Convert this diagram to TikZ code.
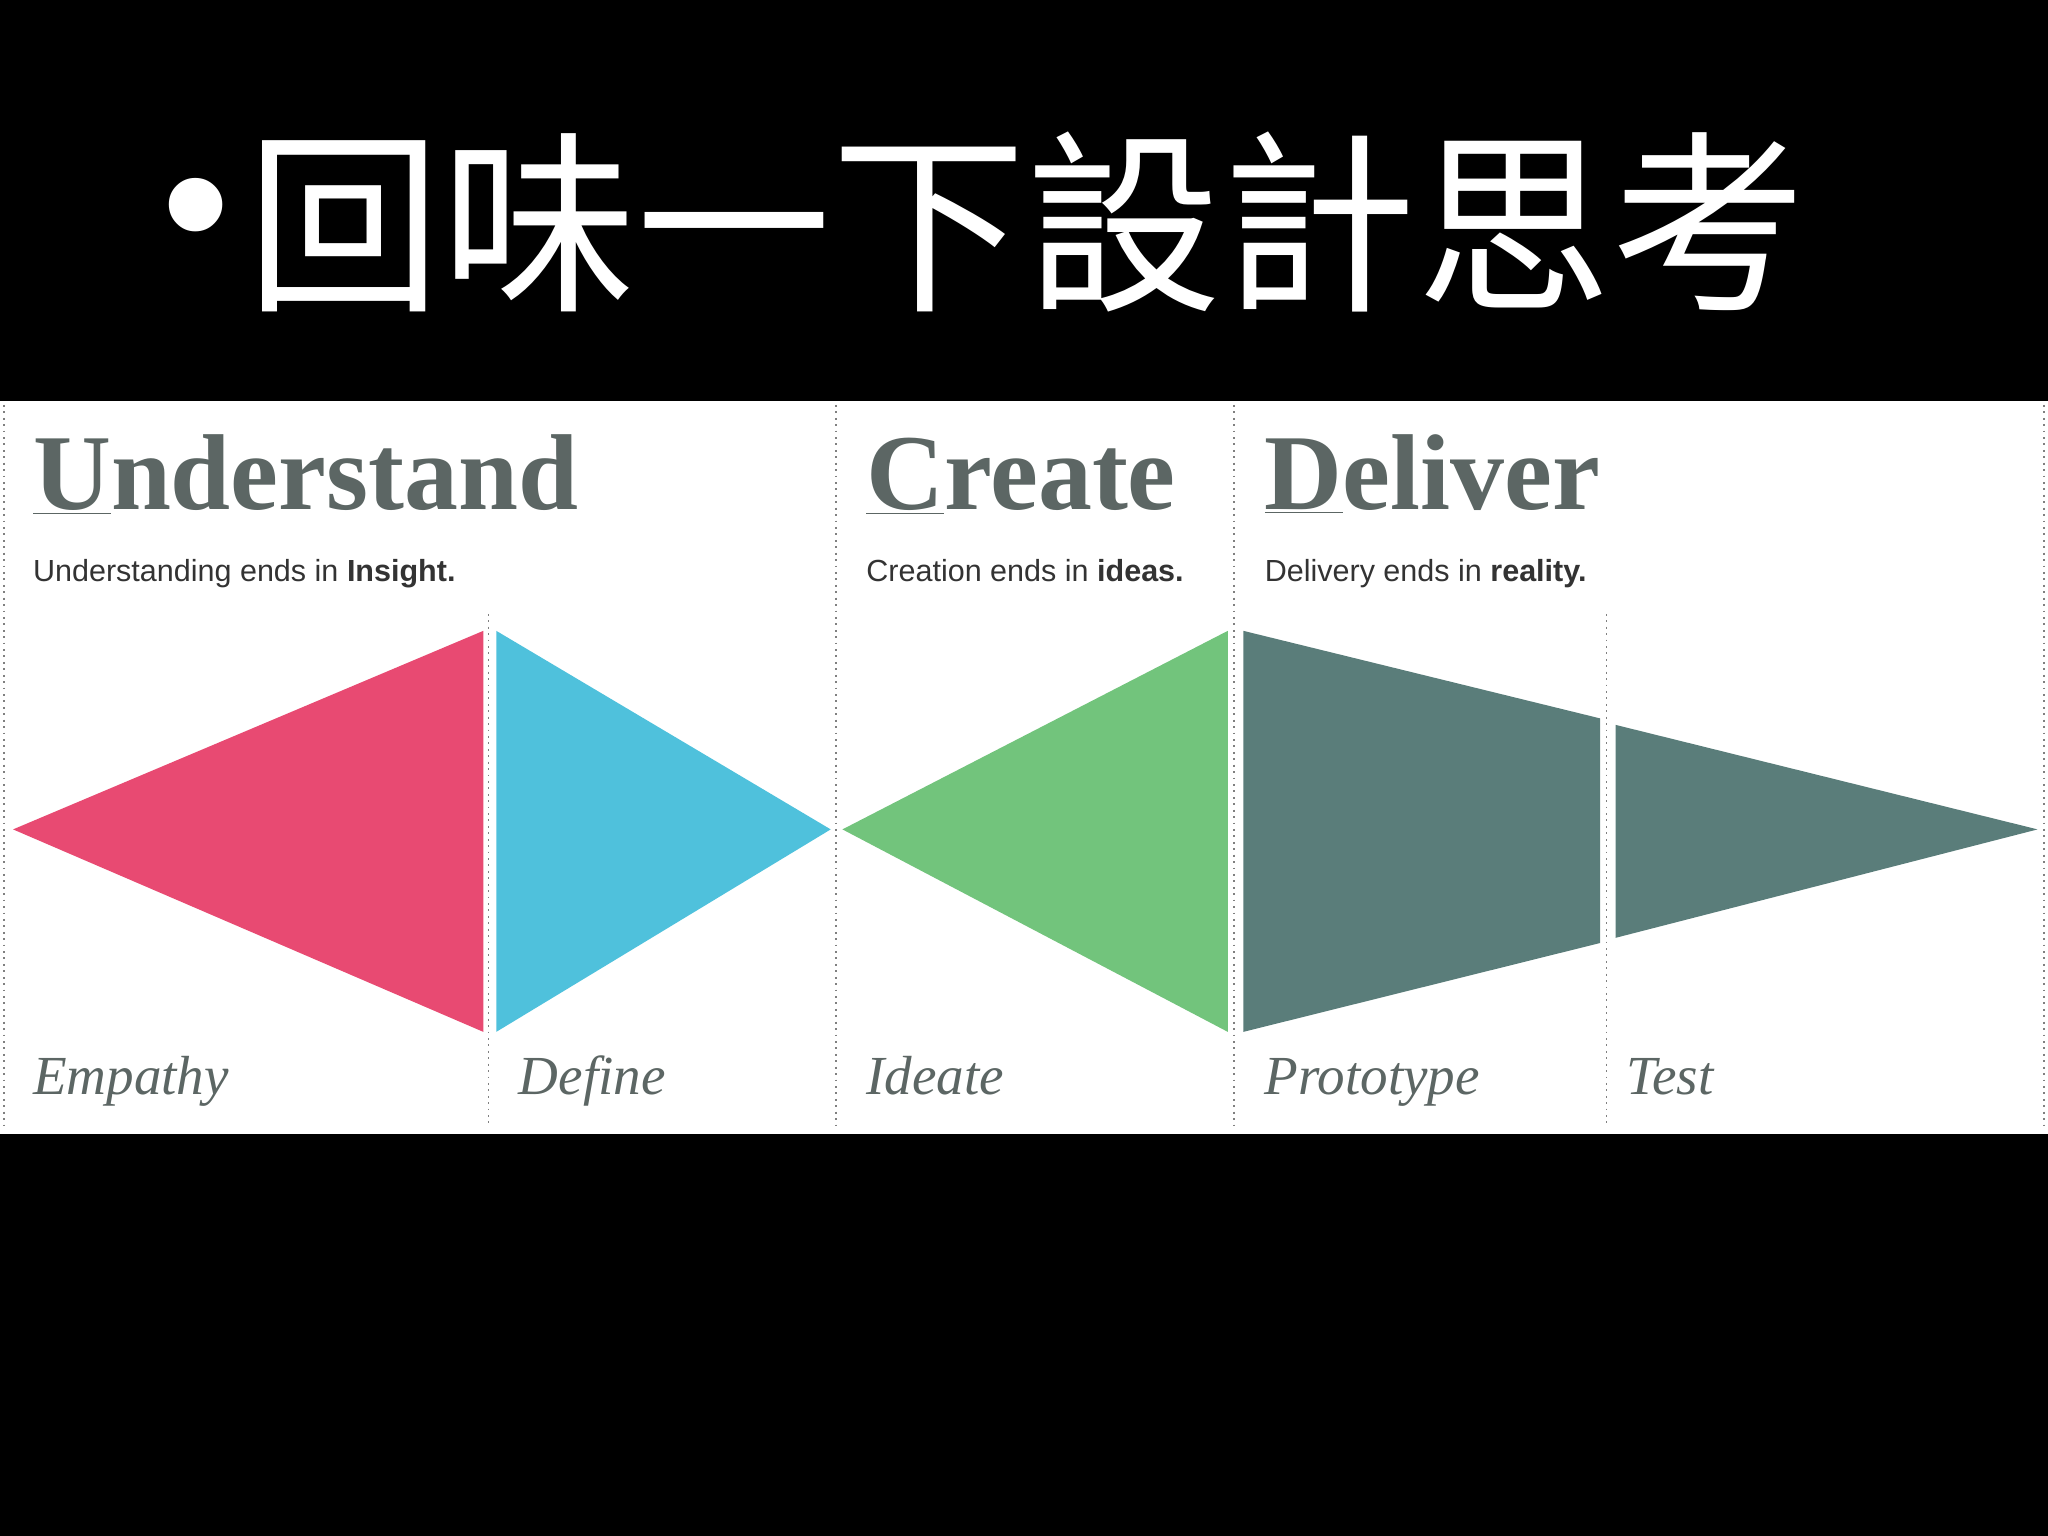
\documentclass[tikz,border=0pt]{standalone}
\usepackage{fontspec}
\setmainfont{Liberation Serif}
\setsansfont{Liberation Sans}
\newfontfamily\cjk{Noto Sans CJK TC}
\definecolor{pinkc}{HTML}{E84A72}
\definecolor{bluec}{HTML}{4FC1DC}
\definecolor{greenc}{HTML}{72C47C}
\definecolor{tealc}{HTML}{5A7D7A}
\definecolor{headc}{HTML}{5C6664}
\definecolor{txtc}{HTML}{333333}
\begin{document}
\begin{tikzpicture}[x=0.02cm,y=-0.02cm,
  head/.style={anchor=base west,inner sep=0,text=headc,font=\fontsize{47}{50}\selectfont\bfseries},
  sub/.style={anchor=base west,inner sep=0,text=txtc,font=\sffamily\fontsize{13.3}{16}\selectfont},
  lab/.style={anchor=base west,inner sep=0,text=headc,font=\fontsize{24}{28}\selectfont\itshape},
  dotline/.style={gray,line width=0.8pt,dotted}]
\fill[black] (0,0) rectangle (1568,1176);
\fill[white] (0,307) rectangle (1568,868);
\node[anchor=center,text=white,inner sep=0,font=\sffamily\fontsize{86}{90}\selectfont] (bullet) at (150,172) {•};
\node[anchor=west,text=white,inner sep=0,font=\cjk\fontsize{85}{90}\selectfont] (title) at (188,170) {回味一下設計思考};
% dotted lines
\foreach \x/\a in {3/310,374/470,640/310,945/310,1230/470,1565/310}
  \draw[dotline] (\x,\a) -- (\x,862);
% shapes
\fill[pinkc] (10,635) -- (370,483) -- (370,790) -- cycle;
\fill[bluec] (380,483) -- (380,790) -- (636,635) -- cycle;
\fill[greenc] (645,635) -- (940,483) -- (940,790) -- cycle;
\fill[tealc] (952,483) -- (1225,550) -- (1225,722) -- (952,790) -- cycle;
\fill[tealc] (1237,555) -- (1237,718) -- (1560,635) -- cycle;
% headings
\node[head] (h1) at (25,390) {\underline{U}nderstand};
\node[head] (h2) at (663,390) {\underline{C}reate};
\node[head] (h3) at (968,390) {\underline{D}eliver};
\node[sub] (s1) at (25,445) {Understanding ends in \textbf{Insight.}};
\node[sub] (s2) at (663,445) {Creation ends in \textbf{ideas.}};
\node[sub] (s3) at (968,445) {Delivery ends in \textbf{reality.}};
\node[lab] (l1) at (25,838) {Empathy};
\node[lab] (l2) at (397,838) {Define};
\node[lab] (l3) at (663,838) {Ideate};
\node[lab] (l4) at (968,838) {Prototype};
\node[lab] (l5) at (1245,838) {Test};
\end{tikzpicture}
\end{document}
